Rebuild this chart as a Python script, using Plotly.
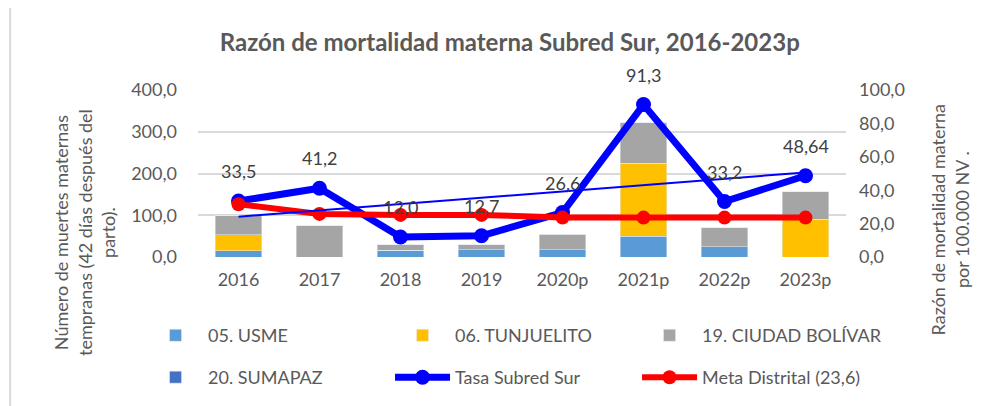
import numpy as np
import plotly.graph_objects as go

# datos
years = ['2016', '2017', '2018', '2019', '2020p', '2021p', '2022p', '2023p']
usme = [15, 0, 16, 17, 17, 50, 24, 0]
tunjuelito = [38, 0, 0, 0, 0, 175, 0, 90]
ciudad_bolivar = [46, 75, 13, 12, 38, 97, 46, 66]
sumapaz = [0, 0, 0, 0, 0, 0, 0, 0]
tasa_subred = [33.5, 41.2, 12.0, 12.7, 26.6, 91.3, 33.2, 48.64]
meta_distrital = [31.6, 25.8, 25.2, 25.2, 23.6, 23.6, 23.6, 23.6]

# la pagina html deja 8px de margen en el body
OFF = 8
W, H = 995 - OFF, 406 - OFF
L = 198 - OFF
T = 90 - OFF
PW = 846.5 - 198
PH = 258.3 - 90
R = W - L - PW
B = H - T - PH


def px_x(px):
    # pixel de la pagina -> coordenada paper
    return (px - OFF - L) / PW


def px_y(py):
    return (OFF + T + PH - py) / PH


FONT = 'Lato'
GREY = '#595959'

fig = go.Figure()

bars = [
    ('05. USME', usme, '#5B9BD5', 'legend'),
    ('06. TUNJUELITO', tunjuelito, '#FFC000', 'legend'),
    ('19. CIUDAD BOLÍVAR', ciudad_bolivar, '#A5A5A5', 'legend'),
    ('20. SUMAPAZ', sumapaz, '#4472C4', 'legend2'),
]
for name, vals, color, leg in bars:
    fig.add_trace(go.Bar(x=years, y=vals, name=name, marker_color=color,
                         legend=leg, yaxis='y'))

fig.add_trace(go.Scatter(x=years, y=tasa_subred, name='Tasa Subred Sur',
                         mode='lines+markers', yaxis='y2', legend='legend2',
                         line=dict(color='#0000FF', width=7),
                         marker=dict(color='#0000FF', size=15)))
fig.add_trace(go.Scatter(x=years, y=meta_distrital, name='Meta Distrital (23,6)',
                         mode='lines+markers', yaxis='y2', legend='legend2',
                         line=dict(color='#FF0000', width=6),
                         marker=dict(color='#FF0000', size=14)))

# linea de tendencia lineal de la tasa
idx = np.arange(len(years))
slope, icpt = np.polyfit(idx, tasa_subred, 1)
fig.add_trace(go.Scatter(x=[years[0], years[-1]], y=[icpt, icpt + slope * idx[-1]],
                         mode='lines', yaxis='y2', showlegend=False,
                         line=dict(color='#0000FF', width=2), hoverinfo='skip'))

for i, v in zip(idx, tasa_subred):
    fig.add_annotation(x=int(i), y=v, yref='y2', text=str(v).replace('.', ','),
                       showarrow=False, yshift=30,
                       font=dict(size=18, color='#404040', family=FONT))

fig.add_annotation(x=px_x(85), y=px_y(234), xref='paper', yref='paper',
                   text='Número de muertes maternas<br>tempranas (42 días después del<br>parto).',
                   textangle=-90, showarrow=False, xanchor='center', yanchor='middle',
                   font=dict(size=18, color=GREY, family=FONT))
fig.add_annotation(x=px_x(951), y=px_y(221), xref='paper', yref='paper',
                   text='Razón de mortalidad materna<br>por 100.000 NV .',
                   textangle=-90, showarrow=False, xanchor='center', yanchor='middle',
                   font=dict(size=18, color=GREY, family=FONT))

# borde del area del grafico
fig.add_shape(type='line', xref='paper', yref='paper', x0=px_x(10), x1=px_x(10),
              y0=px_y(6), y1=px_y(420), line=dict(color='#D9D9D9', width=2))
fig.add_shape(type='line', xref='paper', yref='paper', x0=px_x(10), x1=px_x(1000),
              y0=px_y(6), y1=px_y(6), line=dict(color='#D9D9D9', width=2))

legend_style = dict(orientation='h', xanchor='left', yanchor='middle',
                    itemwidth=55, entrywidth=177, entrywidthmode='pixels',
                    font=dict(size=18, color=GREY, family=FONT),
                    bgcolor='rgba(0,0,0,0)', traceorder='normal')

fig.update_layout(
    width=W, height=H,
    margin=dict(l=L, r=R, t=T, b=B),
    paper_bgcolor='white', plot_bgcolor='white',
    separators=',.',
    barmode='stack', bargap=0.42,
    font=dict(family=FONT, color=GREY, size=18),
    title=dict(text='<b>Razón de mortalidad materna Subred Sur, 2016-2023p</b>',
               x=px_x(510), xref='paper', xanchor='center',
               y=1 - (43 - OFF) / H, yref='container', yanchor='middle',
               font=dict(size=24, color=GREY, family=FONT)),
    xaxis=dict(type='category', categoryorder='array', categoryarray=years,
               range=[-0.5, len(years) - 0.5], autorange=False,
               showgrid=False, showline=False, ticks='', ticklabelstandoff=10,
               tickfont=dict(size=18, color=GREY)),
    yaxis=dict(range=[0, 400], dtick=100, tickformat='.1f', showgrid=True,
               gridcolor='#D9D9D9', gridwidth=1.5, zeroline=False,
               ticklabelstandoff=20, tickfont=dict(size=18, color=GREY)),
    yaxis2=dict(range=[0, 100], dtick=20, tickformat='.1f', overlaying='y',
                side='right', showgrid=False, zeroline=False,
                ticklabelstandoff=12, tickfont=dict(size=18, color=GREY)),
    legend=dict(x=px_x(143), y=px_y(336), **legend_style),
    legend2=dict(x=px_x(143), y=px_y(378), **legend_style),
    showlegend=True,
)

fig.write_html('out.html')
